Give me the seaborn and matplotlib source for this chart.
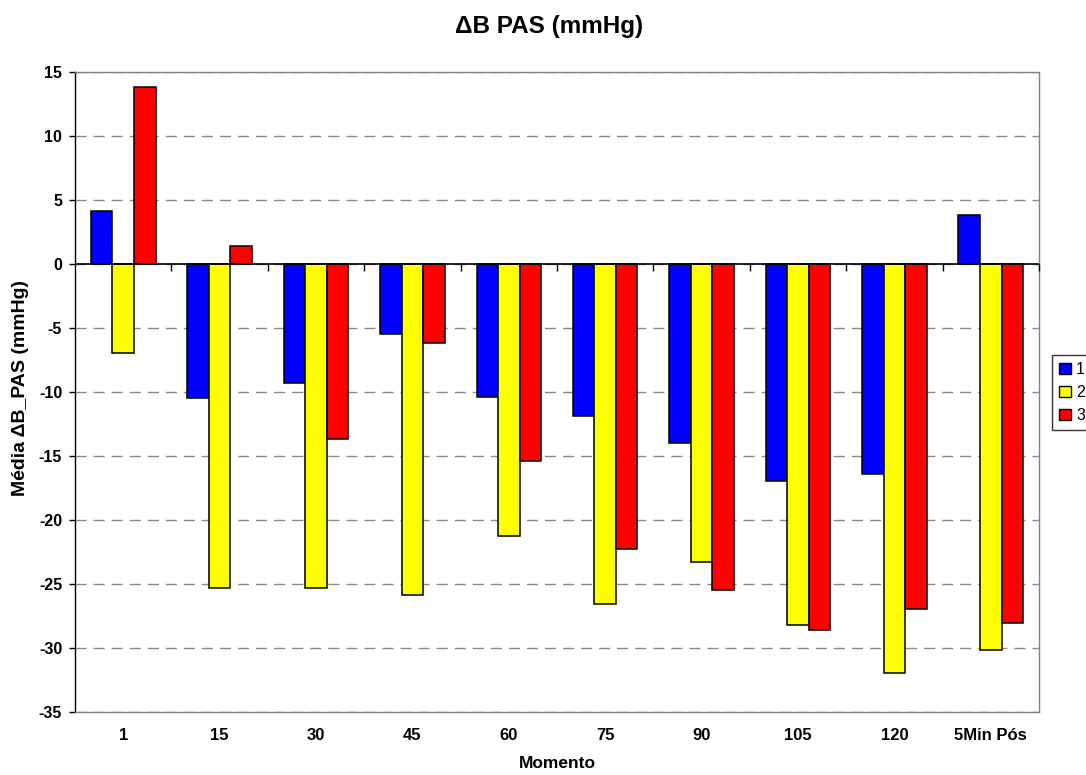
import numpy as np
import pandas as pd
import matplotlib
matplotlib.use("Agg")
import matplotlib.pyplot as plt
from matplotlib.patches import Patch
import seaborn as sns

# Momentos de medida e médias de ΔB PAS por grupo
momentos = ["1", "15", "30", "45", "60", "75", "90", "105", "120", "5Min Pós"]
grupos = ["1", "2", "3"]
grupo1 = [4.1, -10.5, -9.3, -5.5, -10.4, -11.9, -14.0, -17.0, -16.4, 3.8]
grupo2 = [-7.0, -25.3, -25.3, -25.9, -21.3, -26.6, -23.3, -28.2, -32.0, -30.2]
grupo3 = [13.8, 1.4, -13.7, -6.2, -15.4, -22.3, -25.5, -28.6, -27.0, -28.1]
cores = ["#0000FF", "#FFFF00", "#FF0000"]
yticks = list(range(-35, 20, 5))

df = pd.DataFrame({
    "Momento": momentos * 3,
    "grupo": [g for g in grupos for _ in momentos],
    "valor": grupo1 + grupo2 + grupo3,
})

sns.set_style("white")
plt.rcParams["font.family"] = ["Liberation Sans", "DejaVu Sans"]
plt.rcParams["font.weight"] = "bold"
plt.rcParams["text.color"] = "black"
plt.rcParams["xtick.color"] = "black"
plt.rcParams["ytick.color"] = "black"
plt.rcParams["axes.labelcolor"] = "black"

fig = plt.figure(figsize=(10.86, 7.75), dpi=100)
ax = fig.add_axes([0.0691, 0.0817, 0.8876, 0.8258])

sns.barplot(data=df, x="Momento", y="valor", hue="grupo", order=momentos,
            hue_order=grupos, palette=cores, width=0.67, edgecolor="black",
            linewidth=1.1, errorbar=None, saturation=1, legend=False, ax=ax)

ax.set_xlim(-0.5, len(momentos) - 0.5)
ax.set_ylim(-35, 15)
ax.set_yticks(yticks)
ax.set_yticklabels([str(v) for v in yticks], fontsize=11.5, fontweight="bold",
                   color="black")
ax.set_xticks(range(len(momentos)))
ax.set_xticklabels(momentos, fontsize=12, fontweight="bold", color="black")
ax.tick_params(axis="x", length=0, pad=12)
ax.tick_params(axis="y", length=4.3, width=1, color="black", pad=5,
               direction="out", left=True)

# dashed horizontal gridlines
ax.set_axisbelow(True)
ax.yaxis.grid(True, color="#8a8a8a", linewidth=1.0, linestyle=(0, (8, 5)))
ax.xaxis.grid(False)

# plot area border and value axis
for side in ["top", "right", "bottom"]:
    ax.spines[side].set_visible(True)
    ax.spines[side].set_color("#808080")
    ax.spines[side].set_linewidth(1.0)
ax.spines["left"].set_color("black")
ax.spines["left"].set_linewidth(1.0)

# category axis crossing at zero, with ticks between categories
ax.axhline(0, color="black", linewidth=1.2, zorder=5)
bounds = np.arange(0.5, len(momentos), 1.0)
ax.plot(bounds, np.zeros_like(bounds), linestyle="none", marker=3,
        markersize=5, markeredgewidth=1.0, color="black", zorder=5, clip_on=False)

ax.set_xlabel("")
ax.set_ylabel("")
fig.text(0.506, 0.966, "ΔB PAS (mmHg)", ha="center", va="center",
         fontsize=17.5, fontweight="bold", color="black")
fig.text(0.5135, 1 - 764 / 775, "Momento", ha="center", va="center",
         fontsize=12.5, fontweight="bold", color="black")
fig.text(21 / 1086, 1 - 388 / 775, "Média ΔB_PAS (mmHg)", ha="center",
         va="center", rotation=90, fontsize=14, fontweight="bold", color="black")

handles = [Patch(facecolor=c, edgecolor="black", linewidth=1.0) for c in cores]
leg = fig.legend(handles, grupos, loc="upper left",
                 bbox_to_anchor=(1052 / 1086, 1 - 355 / 775),
                 fontsize=11.5, frameon=True, fancybox=False, handlelength=0.75,
                 handleheight=0.75, handletextpad=0.3, labelspacing=0.5,
                 borderpad=0.45, borderaxespad=0)
leg.get_frame().set_edgecolor("black")
leg.get_frame().set_linewidth(1.0)
for t in leg.get_texts():
    t.set_fontweight("normal")
    t.set_color("black")

fig.savefig("out.png", dpi=100)
